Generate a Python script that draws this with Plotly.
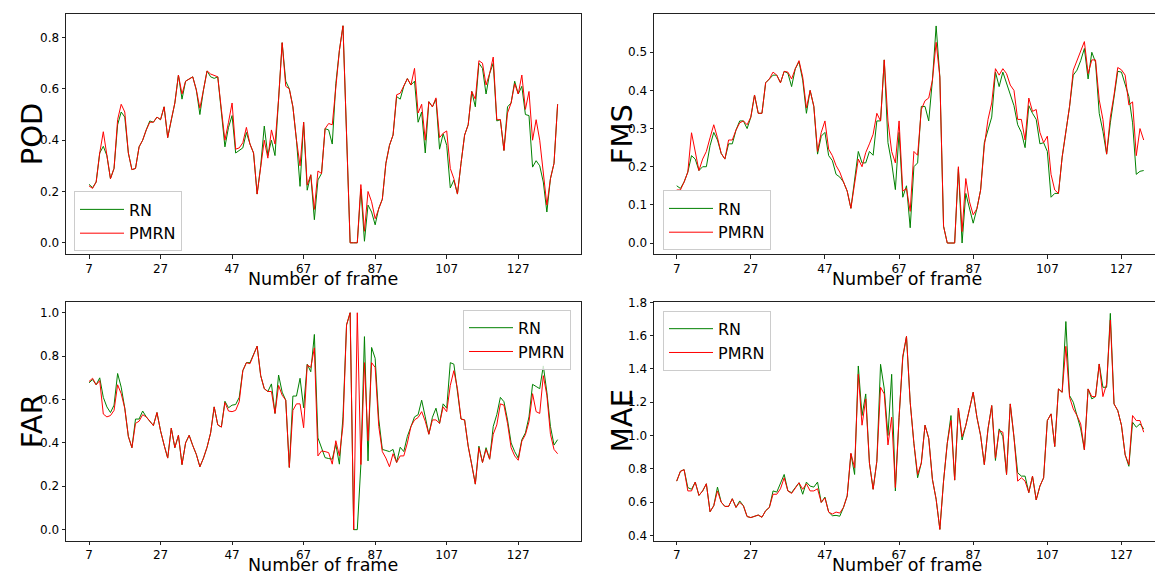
import plotly.graph_objects as go

# Datos (frames y métricas por modelo):
frames_pod_far = list(range(7, 139))
frames_fms_mae = list(range(7, 134))

pod_rn = [
    0.228, 0.215, 0.237, 0.35, 0.376, 0.34, 0.25, 0.29, 0.46, 0.51,
    0.49, 0.35, 0.285, 0.29, 0.374, 0.40, 0.44, 0.475, 0.47, 0.49,
    0.48, 0.53, 0.41, 0.48, 0.545, 0.654, 0.56, 0.63, 0.64, 0.647,
    0.596, 0.50, 0.596, 0.67, 0.647, 0.641, 0.647, 0.51, 0.374, 0.45,
    0.496, 0.35, 0.36, 0.37, 0.43, 0.385, 0.35, 0.19, 0.30, 0.455,
    0.34, 0.40, 0.34, 0.56, 0.78, 0.63, 0.60, 0.53, 0.40, 0.22,
    0.47, 0.205, 0.265, 0.09, 0.245, 0.27, 0.445, 0.44, 0.385, 0.62,
    0.75, 0.846, 0.42, 0.0, 0.0, 0.0, 0.21, 0.006, 0.147, 0.12,
    0.07, 0.135, 0.17, 0.31, 0.38, 0.42, 0.57, 0.56, 0.61, 0.64,
    0.615, 0.63, 0.47, 0.51, 0.35, 0.55, 0.53, 0.56, 0.365, 0.425,
    0.38, 0.214, 0.244, 0.19, 0.31, 0.42, 0.46, 0.59, 0.53, 0.70,
    0.68, 0.58, 0.66, 0.70, 0.475, 0.48, 0.36, 0.53, 0.545, 0.63,
    0.58, 0.61, 0.50, 0.496, 0.295, 0.32, 0.30, 0.237, 0.12, 0.25,
    0.31, 0.54,
]
pod_pmrn = [
    0.222, 0.212, 0.237, 0.35, 0.433, 0.35, 0.25, 0.29, 0.48, 0.54,
    0.51, 0.35, 0.285, 0.29, 0.374, 0.40, 0.44, 0.47, 0.47, 0.49,
    0.48, 0.53, 0.41, 0.48, 0.545, 0.654, 0.58, 0.63, 0.64, 0.647,
    0.596, 0.525, 0.596, 0.67, 0.658, 0.654, 0.647, 0.52, 0.40, 0.47,
    0.545, 0.365, 0.37, 0.39, 0.45, 0.385, 0.35, 0.19, 0.30, 0.40,
    0.33, 0.44, 0.385, 0.56, 0.78, 0.61, 0.60, 0.53, 0.40, 0.30,
    0.47, 0.225, 0.265, 0.13, 0.28, 0.27, 0.445, 0.465, 0.46, 0.62,
    0.75, 0.846, 0.42, 0.0, 0.0, 0.0, 0.227, 0.045, 0.20, 0.16,
    0.094, 0.135, 0.17, 0.31, 0.38, 0.42, 0.577, 0.583, 0.61, 0.64,
    0.615, 0.68, 0.506, 0.54, 0.40, 0.55, 0.53, 0.565, 0.41, 0.427,
    0.436, 0.29, 0.25, 0.19, 0.31, 0.42, 0.46, 0.59, 0.56, 0.71,
    0.70, 0.615, 0.66, 0.724, 0.48, 0.48, 0.36, 0.506, 0.545, 0.62,
    0.58, 0.654, 0.52, 0.59, 0.40, 0.48, 0.40, 0.276, 0.147, 0.25,
    0.31, 0.54,
]

fms_rn = [
    0.15, 0.143, 0.16, 0.186, 0.229, 0.22, 0.19, 0.20, 0.20, 0.255,
    0.29, 0.27, 0.235, 0.22, 0.26, 0.26, 0.296, 0.32, 0.32, 0.30,
    0.33, 0.388, 0.34, 0.34, 0.42, 0.43, 0.44, 0.44, 0.42, 0.45,
    0.445, 0.41, 0.457, 0.475, 0.427, 0.34, 0.40, 0.358, 0.233, 0.28,
    0.29, 0.229, 0.216, 0.18, 0.173, 0.16, 0.136, 0.091, 0.16, 0.24,
    0.21, 0.21, 0.24, 0.23, 0.32, 0.32, 0.48, 0.263, 0.21, 0.14,
    0.29, 0.12, 0.15, 0.04, 0.20, 0.21, 0.358, 0.358, 0.32, 0.427,
    0.569, 0.435, 0.044, 0.0, 0.0, 0.0, 0.195, 0.0, 0.13, 0.087,
    0.052, 0.09, 0.139, 0.263, 0.30, 0.33, 0.448, 0.41, 0.448, 0.42,
    0.39, 0.36, 0.31, 0.29, 0.25, 0.36, 0.34, 0.324, 0.26, 0.263,
    0.24, 0.12, 0.13, 0.13, 0.225, 0.29, 0.358, 0.44, 0.453, 0.478,
    0.51, 0.43, 0.50, 0.474, 0.34, 0.293, 0.233, 0.315, 0.388, 0.45,
    0.448, 0.418, 0.384, 0.315, 0.18, 0.188, 0.19,
]
fms_pmrn = [
    0.139, 0.139, 0.16, 0.186, 0.289, 0.24, 0.19, 0.22, 0.24, 0.276,
    0.31, 0.276, 0.235, 0.22, 0.27, 0.27, 0.296, 0.315, 0.32, 0.31,
    0.33, 0.388, 0.34, 0.34, 0.42, 0.43, 0.448, 0.44, 0.42, 0.45,
    0.448, 0.43, 0.457, 0.478, 0.435, 0.354, 0.40, 0.358, 0.24, 0.29,
    0.32, 0.246, 0.229, 0.203, 0.186, 0.16, 0.136, 0.091, 0.16, 0.22,
    0.20, 0.237, 0.26, 0.285, 0.34, 0.32, 0.48, 0.32, 0.24, 0.21,
    0.32, 0.136, 0.143, 0.083, 0.24, 0.23, 0.35, 0.373, 0.38, 0.427,
    0.526, 0.435, 0.044, 0.0, 0.0, 0.0, 0.20, 0.03, 0.169, 0.108,
    0.074, 0.09, 0.139, 0.255, 0.324, 0.367, 0.457, 0.44, 0.457, 0.444,
    0.414, 0.40, 0.324, 0.324, 0.27, 0.38, 0.345, 0.35, 0.29, 0.263,
    0.28, 0.18, 0.139, 0.13, 0.225, 0.29, 0.358, 0.453, 0.477, 0.50,
    0.528, 0.444, 0.48, 0.48, 0.375, 0.324, 0.233, 0.33, 0.388, 0.46,
    0.454, 0.44, 0.362, 0.37, 0.229, 0.30, 0.27,
]

far_rn = [
    0.677, 0.692, 0.668, 0.70, 0.61, 0.566, 0.54, 0.574, 0.72, 0.657,
    0.56, 0.43, 0.378, 0.51, 0.51, 0.547, 0.52, 0.50, 0.48, 0.54,
    0.456, 0.39, 0.33, 0.468, 0.378, 0.435, 0.30, 0.40, 0.435, 0.388,
    0.347, 0.29, 0.33, 0.38, 0.446, 0.566, 0.483, 0.473, 0.592, 0.562,
    0.574, 0.577, 0.61, 0.733, 0.77, 0.77, 0.808, 0.846, 0.71, 0.65,
    0.637, 0.672, 0.536, 0.713, 0.634, 0.597, 0.287, 0.616, 0.616, 0.698,
    0.562, 0.763, 0.728, 0.90, 0.423, 0.375, 0.332, 0.328, 0.325, 0.393,
    0.302, 0.52, 0.944, 1.0, 0.0, 0.0, 0.30, 0.89, 0.317, 0.84,
    0.79, 0.51, 0.37, 0.365, 0.36, 0.37, 0.31, 0.38, 0.36, 0.43,
    0.48, 0.52, 0.53, 0.597, 0.52, 0.44, 0.518, 0.56, 0.49, 0.58,
    0.56, 0.77, 0.763, 0.63, 0.51, 0.506, 0.385, 0.30, 0.21, 0.385,
    0.31, 0.378, 0.325, 0.476, 0.53, 0.61, 0.59, 0.506, 0.40, 0.36,
    0.33, 0.415, 0.446, 0.52, 0.67, 0.66, 0.65, 0.755, 0.634, 0.476,
    0.39, 0.415,
]
far_pmrn = [
    0.683, 0.698, 0.668, 0.687, 0.533, 0.52, 0.526, 0.55, 0.668, 0.627,
    0.56, 0.43, 0.378, 0.49, 0.50, 0.53, 0.52, 0.50, 0.48, 0.54,
    0.456, 0.39, 0.33, 0.468, 0.378, 0.435, 0.30, 0.40, 0.435, 0.388,
    0.347, 0.29, 0.33, 0.38, 0.446, 0.566, 0.483, 0.473, 0.586, 0.547,
    0.544, 0.55, 0.59, 0.733, 0.77, 0.765, 0.808, 0.846, 0.71, 0.65,
    0.637, 0.637, 0.536, 0.665, 0.62, 0.597, 0.287, 0.55, 0.58, 0.58,
    0.47, 0.76, 0.748, 0.838, 0.34, 0.363, 0.36, 0.355, 0.302, 0.41,
    0.34, 0.48, 0.944, 1.0, 0.0, 1.0, 0.30, 0.77, 0.41, 0.77,
    0.748, 0.476, 0.36, 0.33, 0.29, 0.35, 0.31, 0.34, 0.34, 0.40,
    0.476, 0.506, 0.517, 0.544, 0.50, 0.44, 0.506, 0.506, 0.49, 0.566,
    0.544, 0.665, 0.733, 0.65, 0.51, 0.506, 0.385, 0.30, 0.21, 0.378,
    0.31, 0.37, 0.325, 0.44, 0.483, 0.58, 0.574, 0.49, 0.378, 0.34,
    0.32, 0.408, 0.438, 0.498, 0.627, 0.544, 0.536, 0.71, 0.62, 0.44,
    0.37, 0.35,
]

mae_rn = [
    0.726, 0.785, 0.795, 0.687, 0.677, 0.72, 0.64, 0.667, 0.71, 0.542,
    0.578, 0.69, 0.60, 0.574, 0.574, 0.62, 0.568, 0.607, 0.578, 0.513,
    0.507, 0.515, 0.522, 0.509, 0.548, 0.568, 0.667, 0.66, 0.716, 0.766,
    0.667, 0.657, 0.687, 0.716, 0.647, 0.72, 0.696, 0.69, 0.72, 0.598,
    0.63, 0.54, 0.518, 0.52, 0.515, 0.568, 0.637, 0.89, 0.766, 1.418,
    1.12, 1.25, 0.835, 0.677, 0.845, 1.428, 1.28, 1.0, 1.368, 0.667,
    1.11, 1.467, 1.596, 1.20, 0.953, 0.746, 0.835, 1.062, 0.983, 0.736,
    0.617, 0.436, 0.726, 0.953, 1.12, 0.732, 1.165, 0.973, 1.06, 1.167,
    1.26, 1.11, 1.0, 0.825, 1.04, 1.18, 0.85, 1.04, 0.993, 0.766,
    1.19, 0.99, 0.776, 0.756, 0.756, 0.657, 0.756, 0.613, 0.696, 0.746,
    1.09, 1.13, 0.934, 1.28, 1.26, 1.685, 1.24, 1.2, 1.12, 1.04,
    0.914, 1.28, 1.22, 1.234, 1.43, 1.29, 1.29, 1.734, 1.19, 1.15,
    1.062, 0.884, 0.815, 1.08, 1.05, 1.07, 1.04,
]
mae_pmrn = [
    0.726, 0.785, 0.795, 0.667, 0.667, 0.72, 0.64, 0.667, 0.71, 0.542,
    0.578, 0.667, 0.60, 0.574, 0.574, 0.62, 0.568, 0.598, 0.578, 0.513,
    0.507, 0.515, 0.522, 0.509, 0.548, 0.568, 0.647, 0.647, 0.68, 0.746,
    0.667, 0.652, 0.687, 0.716, 0.677, 0.71, 0.667, 0.667, 0.68, 0.598,
    0.625, 0.54, 0.528, 0.54, 0.534, 0.568, 0.637, 0.894, 0.805, 1.368,
    1.062, 1.22, 0.835, 0.677, 0.845, 1.29, 1.25, 0.943, 1.11, 0.687,
    1.11, 1.477, 1.596, 1.20, 0.953, 0.766, 0.835, 1.062, 0.983, 0.736,
    0.617, 0.436, 0.726, 0.953, 1.09, 0.732, 1.165, 0.993, 1.06, 1.167,
    1.26, 1.11, 1.0, 0.825, 1.04, 1.18, 0.864, 1.03, 1.02, 0.766,
    1.19, 0.99, 0.726, 0.746, 0.726, 0.657, 0.756, 0.613, 0.696, 0.746,
    1.09, 1.13, 0.934, 1.28, 1.26, 1.536, 1.23, 1.16, 1.12, 1.07,
    0.914, 1.28, 1.234, 1.234, 1.43, 1.234, 1.31, 1.694, 1.19, 1.15,
    1.062, 0.884, 0.825, 1.12, 1.09, 1.09, 1.02,
]

x_ticks = [7, 27, 47, 67, 87, 107, 127]
metric_names = ['POD', 'FMS', 'FAR', 'MAE']
model_names = ['RN', 'PMRN']
model_colors = ['green', 'red']

# La página deja 8 px de margen en el body: la figura ocupa el resto.
OFF = 8
W, H = 1163 - OFF, 579 - OFF


def px_x(px):
    '''Convierte una coordenada x de la ventana en fracción del papel'''
    return (px - OFF) / W


def px_y(py):
    '''Convierte una coordenada y de la ventana en fracción del papel'''
    return 1 - (py - OFF) / H


# Paneles: (frames, rn, pmrn, ejes, leyenda)
panels = [
    (frames_pod_far, pod_rn, pod_pmrn, ('x', 'y'), 'legend'),
    (frames_fms_mae, fms_rn, fms_pmrn, ('x2', 'y2'), 'legend2'),
    (frames_pod_far, far_rn, far_pmrn, ('x3', 'y3'), 'legend3'),
    (frames_fms_mae, mae_rn, mae_pmrn, ('x4', 'y4'), 'legend4'),
]

fig = go.Figure()

for frames, rn, pmrn, (xa, ya), leg in panels:
    assert len(frames) == len(rn) == len(pmrn)
    for name, color, values in zip(model_names, model_colors, [rn, pmrn]):
        fig.add_trace(go.Scatter(
            x      = frames,
            y      = values,
            mode   = 'lines',
            name   = name,
            line   = dict(color=color, width=1),
            xaxis  = xa,
            yaxis  = ya,
            legend = leg,
        ))

# Dominios de los ejes (píxeles de la ventana -> fracción del papel):
left_x  = [px_x(66), px_x(580.5)]
right_x = [px_x(654), px_x(1160)]
top_y   = [px_y(251.5), px_y(8.5)]
bot_y   = [px_y(542), px_y(300)]

axis_common = dict(
    showline  = True,
    linecolor = '#222',
    linewidth = 1,
    mirror    = True,
    ticks     = 'outside',
    ticklen   = 3.5,
    tickcolor = '#222',
    showgrid  = False,
    zeroline  = False,
    tickfont  = dict(size=12, color='black'),
)

x_common = dict(axis_common, tickvals=x_ticks)

fig.update_layout(
    xaxis  = dict(x_common, domain=left_x,  range=[0.57, 144.4], anchor='y'),
    yaxis  = dict(axis_common, domain=top_y, range=[-0.044, 0.890], anchor='x',
                  tickvals=[0, 0.2, 0.4, 0.6, 0.8], tickformat='.1f'),
    xaxis2 = dict(x_common, domain=right_x, range=[0.875, 137.4], anchor='y2'),
    yaxis2 = dict(axis_common, domain=top_y, range=[-0.029, 0.599], anchor='x2',
                  tickvals=[0, 0.1, 0.2, 0.3, 0.4, 0.5], tickformat='.1f'),
    xaxis3 = dict(x_common, domain=left_x,  range=[0.57, 144.4], anchor='y3'),
    yaxis3 = dict(axis_common, domain=bot_y, range=[-0.05, 1.05], anchor='x3',
                  tickvals=[0, 0.2, 0.4, 0.6, 0.8, 1.0], tickformat='.1f'),
    xaxis4 = dict(x_common, domain=right_x, range=[0.875, 137.4], anchor='y4'),
    yaxis4 = dict(axis_common, domain=bot_y, range=[0.369, 1.803], anchor='x4',
                  tickvals=[0.4, 0.6, 0.8, 1.0, 1.2, 1.4, 1.6, 1.8], tickformat='.1f'),
)

# Leyendas de cada panel:
legend_common = dict(
    bgcolor       = 'rgba(255,255,255,0.8)',
    bordercolor   = '#cccccc',
    borderwidth   = 1,
    font          = dict(size=16, color='black'),
    itemwidth     = 44,
    tracegroupgap = 0,
)

fig.update_layout(
    legend  = dict(legend_common, x=px_x(74),  y=px_y(188), xanchor='left',  yanchor='top'),
    legend2 = dict(legend_common, x=px_x(663), y=px_y(187), xanchor='left',  yanchor='top'),
    legend3 = dict(legend_common, x=px_x(571), y=px_y(308), xanchor='right', yanchor='top'),
    legend4 = dict(legend_common, x=px_x(663), y=px_y(309), xanchor='left',  yanchor='top'),
)

# Títulos de los ejes como anotaciones:
annotations = []
for label, cx, cy in zip(metric_names,
                         [32, 622, 32, 622],
                         [130, 130, 421, 421]):
    annotations.append(dict(
        text      = label,
        x         = px_x(cx),
        y         = px_y(cy),
        xref      = 'paper',
        yref      = 'paper',
        textangle = -90,
        showarrow = False,
        xanchor   = 'center',
        yanchor   = 'middle',
        font      = dict(size=29, color='black'),
    ))

for cx, cy in [(323, 277), (907, 277), (323, 567), (907, 567)]:
    annotations.append(dict(
        text      = 'Number of frame',
        x         = px_x(cx),
        y         = px_y(cy),
        xref      = 'paper',
        yref      = 'paper',
        showarrow = False,
        xanchor   = 'center',
        yanchor   = 'middle',
        font      = dict(size=17.5, color='black'),
    ))

fig.update_layout(
    annotations   = annotations,
    width         = W,
    height        = H,
    margin        = dict(l=0, r=0, t=0, b=0),
    paper_bgcolor = 'white',
    plot_bgcolor  = 'white',
    font          = dict(family='DejaVu Sans', color='black'),
    showlegend    = True,
)

fig.write_html('out.html')
